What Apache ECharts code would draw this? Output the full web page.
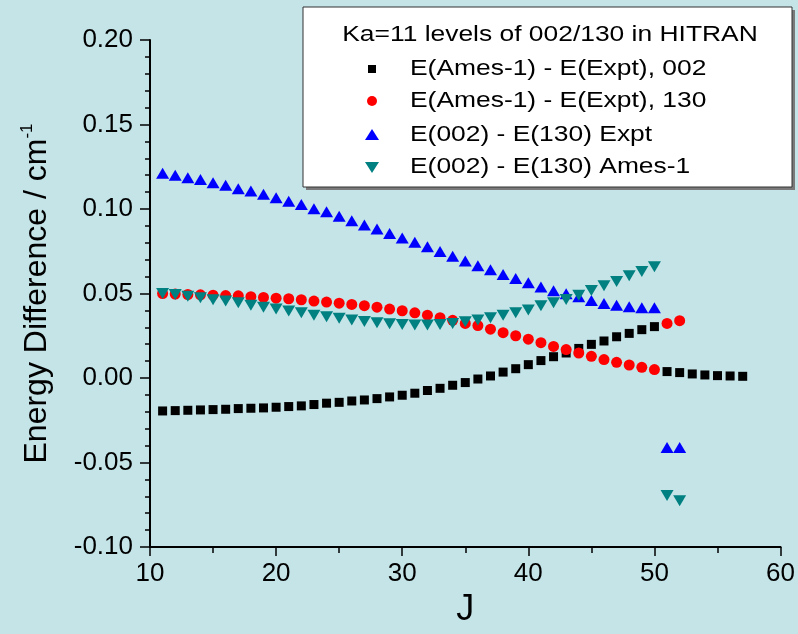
<!DOCTYPE html>
<html>
<head>
<meta charset="utf-8">
<script src="https://cdn.jsdelivr.net/npm/echarts@6/dist/echarts.min.js"></script>
<style>
  html, body { margin: 0; padding: 0; background: #c4e4e8; }
  #chart { width: 798px; height: 634px; }
</style>
</head>
<body>
<div id="chart"></div>
<script>
// ---- data ----
const seriesNames = [
  'E(Ames-1) - E(Expt), 002',
  'E(Ames-1) - E(Expt), 130',
  'E(002) - E(130) Expt',
  'E(002) - E(130) Ames-1'
];
const legendTitle = 'Ka=11 levels of 002/130 in HITRAN';

const J_ames002 = [11,12,13,14,15,16,17,18,19,20,21,22,23,24,25,26,27,28,29,30,31,32,33,34,35,36,37,38,39,40,41,42,43,44,45,46,47,48,49,50,51,52,53,54,55,56,57];
const ames002 = [-0.0195,-0.0193,-0.0191,-0.0189,-0.0187,-0.0185,-0.0181,-0.0179,-0.0177,-0.0173,-0.0169,-0.0165,-0.0157,
  -0.0149,-0.0144,-0.0136,-0.0130,-0.0122,-0.0112,-0.0102,-0.0090,-0.0074,-0.0061,-0.0043,-0.0027,-0.0006,
  0.0012,0.0035,0.0055,0.0079,0.0103,0.0126,0.0148,0.0175,0.0199,0.0219,0.0244,0.0264,0.0286,0.0304,
  0.0038,0.0032,0.0024,0.0018,0.0014,0.0012,0.0010];

const J_other = [11,12,13,14,15,16,17,18,19,20,21,22,23,24,25,26,27,28,29,30,31,32,33,34,35,36,37,38,39,40,41,42,43,44,45,46,47,48,49,50,51,52];
const ames130 = [0.0500,0.0497,0.0494,0.0492,0.0490,0.0488,0.0486,0.0481,0.0477,0.0472,0.0469,0.0463,0.0455,
  0.0449,0.0443,0.0435,0.0428,0.0419,0.0408,0.0398,0.0386,0.0372,0.0357,0.0341,0.0323,0.0310,
  0.0289,0.0268,0.0250,0.0230,0.0209,0.0187,0.0168,0.0148,0.0128,0.0109,0.0093,0.0077,0.0063,0.0050,
  0.0323,0.0339];
const diffExpt = [0.1211,0.1199,0.1185,0.1174,0.1156,0.1140,0.1120,0.1107,0.1087,0.1066,0.1046,0.1026,0.1002,
  0.0983,0.0957,0.0931,0.0906,0.0881,0.0855,0.0829,0.0803,0.0776,0.0748,0.0721,0.0693,0.0664,
  0.0640,0.0613,0.0589,0.0563,0.0538,0.0516,0.0499,0.0481,0.0459,0.0441,0.0431,0.0422,0.0416,0.0416,
  -0.0411,-0.0411];
const diffAmes = [0.0500,0.0494,0.0484,0.0475,0.0463,0.0455,0.0445,0.0431,0.0419,0.0408,0.0396,0.0386,0.0372,
  0.0363,0.0353,0.0343,0.0335,0.0327,0.0321,0.0317,0.0313,0.0313,0.0317,0.0323,0.0333,0.0343,
  0.0357,0.0372,0.0386,0.0402,0.0428,0.0445,0.0465,0.0490,0.0518,0.0546,0.0571,0.0605,0.0630,0.0658,
  -0.0695,-0.0726];

const xTicks = [10, 20, 30, 40, 50, 60];
const yTicks = [-0.10, -0.05, 0.00, 0.05, 0.10, 0.15, 0.20];

// ---- chart ----
const FONT = '"Liberation Sans", Arial, sans-serif';
const colors = ['#000000', '#ff0000', '#0000ff', '#008080'];
const invTri = 'path://M0,0L2,0L1,1.7Z';
const zip = (xs, ys) => xs.map((x, i) => [x, ys[i]]);

const chart = echarts.init(document.getElementById('chart'), null, { renderer: 'canvas' });

const legendX = 372, textX = 410, rowY = [69, 101, 135, 167];
const LEG_FS = 22, LEG_SX = 1.2;
const legendSym = [
  { type: 'rect', shape: { x: legendX - 4, y: rowY[0] - 4, width: 8, height: 8 }, style: { fill: colors[0] } },
  { type: 'circle', shape: { cx: legendX, cy: rowY[1], r: 5 }, style: { fill: colors[1] } },
  { type: 'polygon', shape: { points: [[legendX - 7, rowY[2] + 5], [legendX + 7, rowY[2] + 5], [legendX, rowY[2] - 6]] }, style: { fill: colors[2] } },
  { type: 'polygon', shape: { points: [[legendX - 7, rowY[3] - 5], [legendX + 7, rowY[3] - 5], [legendX, rowY[3] + 6]] }, style: { fill: colors[3] } }
];
const legendTexts = seriesNames.map((n, i) => ({
  type: 'text', x: textX, y: rowY[i], scaleX: LEG_SX,
  style: { text: n, font: LEG_FS + 'px ' + FONT, fill: '#000', verticalAlign: 'middle', align: 'left' }
}));

chart.setOption({
  backgroundColor: '#c4e4e8',
  animation: false,
  grid: { left: 150, right: 15, top: 40, bottom: 87, containLabel: false },
  xAxis: {
    type: 'value', min: 10, max: 60, interval: 10,
    name: 'J', nameLocation: 'middle', nameGap: 42,
    nameTextStyle: { fontFamily: FONT, fontSize: 36, color: '#000' },
    axisLine: { show: true, onZero: false, lineStyle: { color: '#000', width: 2 } },
    axisTick: { show: true, inside: false, length: 9, lineStyle: { color: '#000', width: 1.5 } },
    minorTick: { show: true, splitNumber: 2, length: 6, lineStyle: { color: '#000', width: 1.5 } },
    axisLabel: { fontFamily: FONT, fontSize: 26, color: '#000', margin: 14,
      formatter: v => xTicks.includes(v) ? String(v) : '' },
    splitLine: { show: false }
  },
  yAxis: {
    type: 'value', min: -0.1, max: 0.2, interval: 0.05,
    name: '{a|Energy Difference / cm}{s|-1}', nameLocation: 'middle', nameGap: 95, nameRotate: 90,
    nameTextStyle: { fontFamily: FONT, color: '#000',
      rich: {
        a: { fontFamily: FONT, fontSize: 32, color: '#000', lineHeight: 36 },
        s: { fontFamily: FONT, fontSize: 17, color: '#000', verticalAlign: 'top', lineHeight: 36 }
      } },
    axisLine: { show: true, onZero: false, lineStyle: { color: '#000', width: 2 } },
    axisTick: { show: true, inside: false, length: 10, lineStyle: { color: '#000', width: 1.5 } },
    minorTick: { show: true, splitNumber: 5, length: 5, lineStyle: { color: '#000', width: 1.5 } },
    axisLabel: { fontFamily: FONT, fontSize: 26, color: '#000', margin: 17,
      formatter: v => {
        const t = yTicks.find(k => Math.abs(k - v) < 1e-9);
        return t === undefined ? '' : t.toFixed(2);
      } },
    splitLine: { show: false }
  },
  series: [
    { name: seriesNames[0], type: 'scatter', data: zip(J_ames002, ames002),
      symbol: 'rect', symbolSize: 9, itemStyle: { color: colors[0], opacity: 1 } },
    { name: seriesNames[1], type: 'scatter', data: zip(J_other, ames130),
      symbol: 'circle', symbolSize: 11, itemStyle: { color: colors[1], opacity: 1 } },
    { name: seriesNames[2], type: 'scatter', data: zip(J_other, diffExpt),
      symbol: 'triangle', symbolSize: [13, 11], itemStyle: { color: colors[2], opacity: 1 } },
    { name: seriesNames[3], type: 'scatter', data: zip(J_other, diffAmes),
      symbol: invTri, symbolSize: [13, 11], itemStyle: { color: colors[3], opacity: 1 } }
  ],
  graphic: [
    { type: 'rect', shape: { x: 306, y: 10, width: 489, height: 180 }, style: { fill: '#7a7a7a' }, z: 100 },
    { type: 'rect', shape: { x: 303, y: 7, width: 489, height: 180 }, style: { fill: '#ffffff', stroke: '#333', lineWidth: 1 }, z: 101 },
    { type: 'text', x: 550, y: 35, z: 102, scaleX: LEG_SX,
      style: { text: legendTitle, font: LEG_FS + 'px ' + FONT, fill: '#000', align: 'center', verticalAlign: 'middle' } },
    ...legendSym.map(s => Object.assign({ z: 102 }, s)),
    ...legendTexts.map(t => Object.assign({ z: 102 }, t))
  ]
});
</script>
</body>
</html>
